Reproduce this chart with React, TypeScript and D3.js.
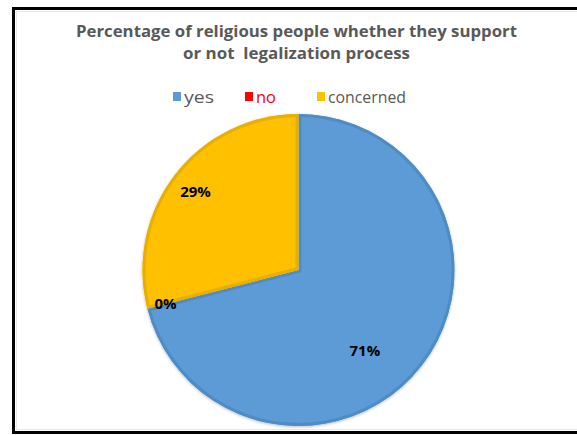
import React from "react";
import * as d3 from "d3";

const categories = ["yes", "no", "concerned"];
const values = [71, 0, 29];
const labels = ["71%", "0%", "29%"];
const colors = ["#5B9BD5", "#FF0000", "#FFC000"];
const edgeColors = ["#4F8CC6", "#D00000", "#E8AE00"];
const legendTextColors = ["#595959", "#FF0000", "#595959"];
// label placement inside slice: [fraction through slice angle, fraction of radius]
const labelPlacement: [number, number][] = [
  [0.55, 0.67],
  [0.5, 0.88],
  [0.495, 0.83],
];
const titleLines = [
  "Percentage of religious people whether they support",
  "or not  legalization process",
];

const W = 577;
const H = 435;

export default function App() {
  const cx = 298.5;
  const cy = 270;
  const R = 156;

  const pie = d3
    .pie<number>()
    .sort(null)
    .value((d) => d)(values);
  const arc = d3.arc<d3.PieArcDatum<number>>().innerRadius(0).outerRadius(R);

  const legendPos = [173, 245, 317];
  const legendLen = [30, 20, 78];

  return (
    <svg
      width={W}
      height={H}
      style={{ position: "absolute", left: 0, top: 0, background: "#fff" }}
    >
      <rect x={0} y={0} width={W} height={H} fill="#fff" />
      {/* frame */}
      <rect
        x={13.5}
        y={8.5}
        width={W + 10}
        height={424}
        fill="none"
        stroke="#000"
        strokeWidth={3}
      />
      <rect
        x={16.5}
        y={11.5}
        width={W}
        height={418}
        fill="none"
        stroke="#E8E8E8"
        strokeWidth={1}
      />
      {/* title */}
      <g
        fontFamily="'Open Sans', 'DejaVu Sans', sans-serif"
        fontWeight="bold"
        fontSize={16}
        fill="#595959"
      >
        <text x={76} y={37} textLength={441} lengthAdjust="spacingAndGlyphs">
          {titleLines[0]}
        </text>
        <text x={183} y={59} textLength={227} lengthAdjust="spacingAndGlyphs" xmlSpace="preserve">
          {titleLines[1]}
        </text>
      </g>
      {/* legend */}
      <g fontFamily="'Open Sans', 'DejaVu Sans', sans-serif" fontSize={15.5}>
        {categories.map((c, i) => (
          <g key={c} transform={`translate(${legendPos[i]},0)`}>
            <rect x={0} y={92} width={8} height={9} fill={colors[i]} />
            <text
              x={11}
              y={103}
              fill={legendTextColors[i]}
              textLength={legendLen[i]}
              lengthAdjust="spacingAndGlyphs"
            >
              {c}
            </text>
          </g>
        ))}
      </g>
      {/* pie */}
      <defs>
        {pie.map((d, i) => (
          <clipPath id={`clip${i}`} key={i}>
            <path d={arc(d) || ""} />
          </clipPath>
        ))}
        <filter id="sh" x="-10%" y="-10%" width="120%" height="120%">
          <feGaussianBlur in="SourceAlpha" stdDeviation="1.5" />
          <feOffset dx="0" dy="1" result="b" />
          <feComponentTransfer>
            <feFuncA type="linear" slope="0.25" />
          </feComponentTransfer>
          <feMerge>
            <feMergeNode />
            <feMergeNode in="SourceGraphic" />
          </feMerge>
        </filter>
      </defs>
      <g transform={`translate(${cx},${cy})`} filter="url(#sh)">
        {pie.map((d, i) =>
          d.endAngle - d.startAngle > 0 ? (
            <g key={i}>
              <path d={arc(d) || ""} fill={colors[i]} />
              <path
                d={arc(d) || ""}
                fill="none"
                stroke={edgeColors[i]}
                strokeWidth={6}
                clipPath={`url(#clip${i})`}
              />
            </g>
          ) : null
        )}
      </g>
      <g
        transform={`translate(${cx},${cy})`}
        fontFamily="'Open Sans', 'DejaVu Sans', sans-serif"
        fontWeight="bold"
        fontSize={15}
        fill="#000"
        textAnchor="middle"
      >
        {pie.map((d, i) => {
          const [f, rf] = labelPlacement[i];
          const a = d.startAngle + (d.endAngle - d.startAngle) * f;
          const lr = R * rf;
          const la = d3
            .arc<any>()
            .innerRadius(lr)
            .outerRadius(lr)
            .startAngle(a)
            .endAngle(a);
          const [x, y] = la.centroid({} as any);
          return (
            <text key={i} x={x} y={y} dy="0.35em">
              {labels[i]}
            </text>
          );
        })}
      </g>
    </svg>
  );
}
